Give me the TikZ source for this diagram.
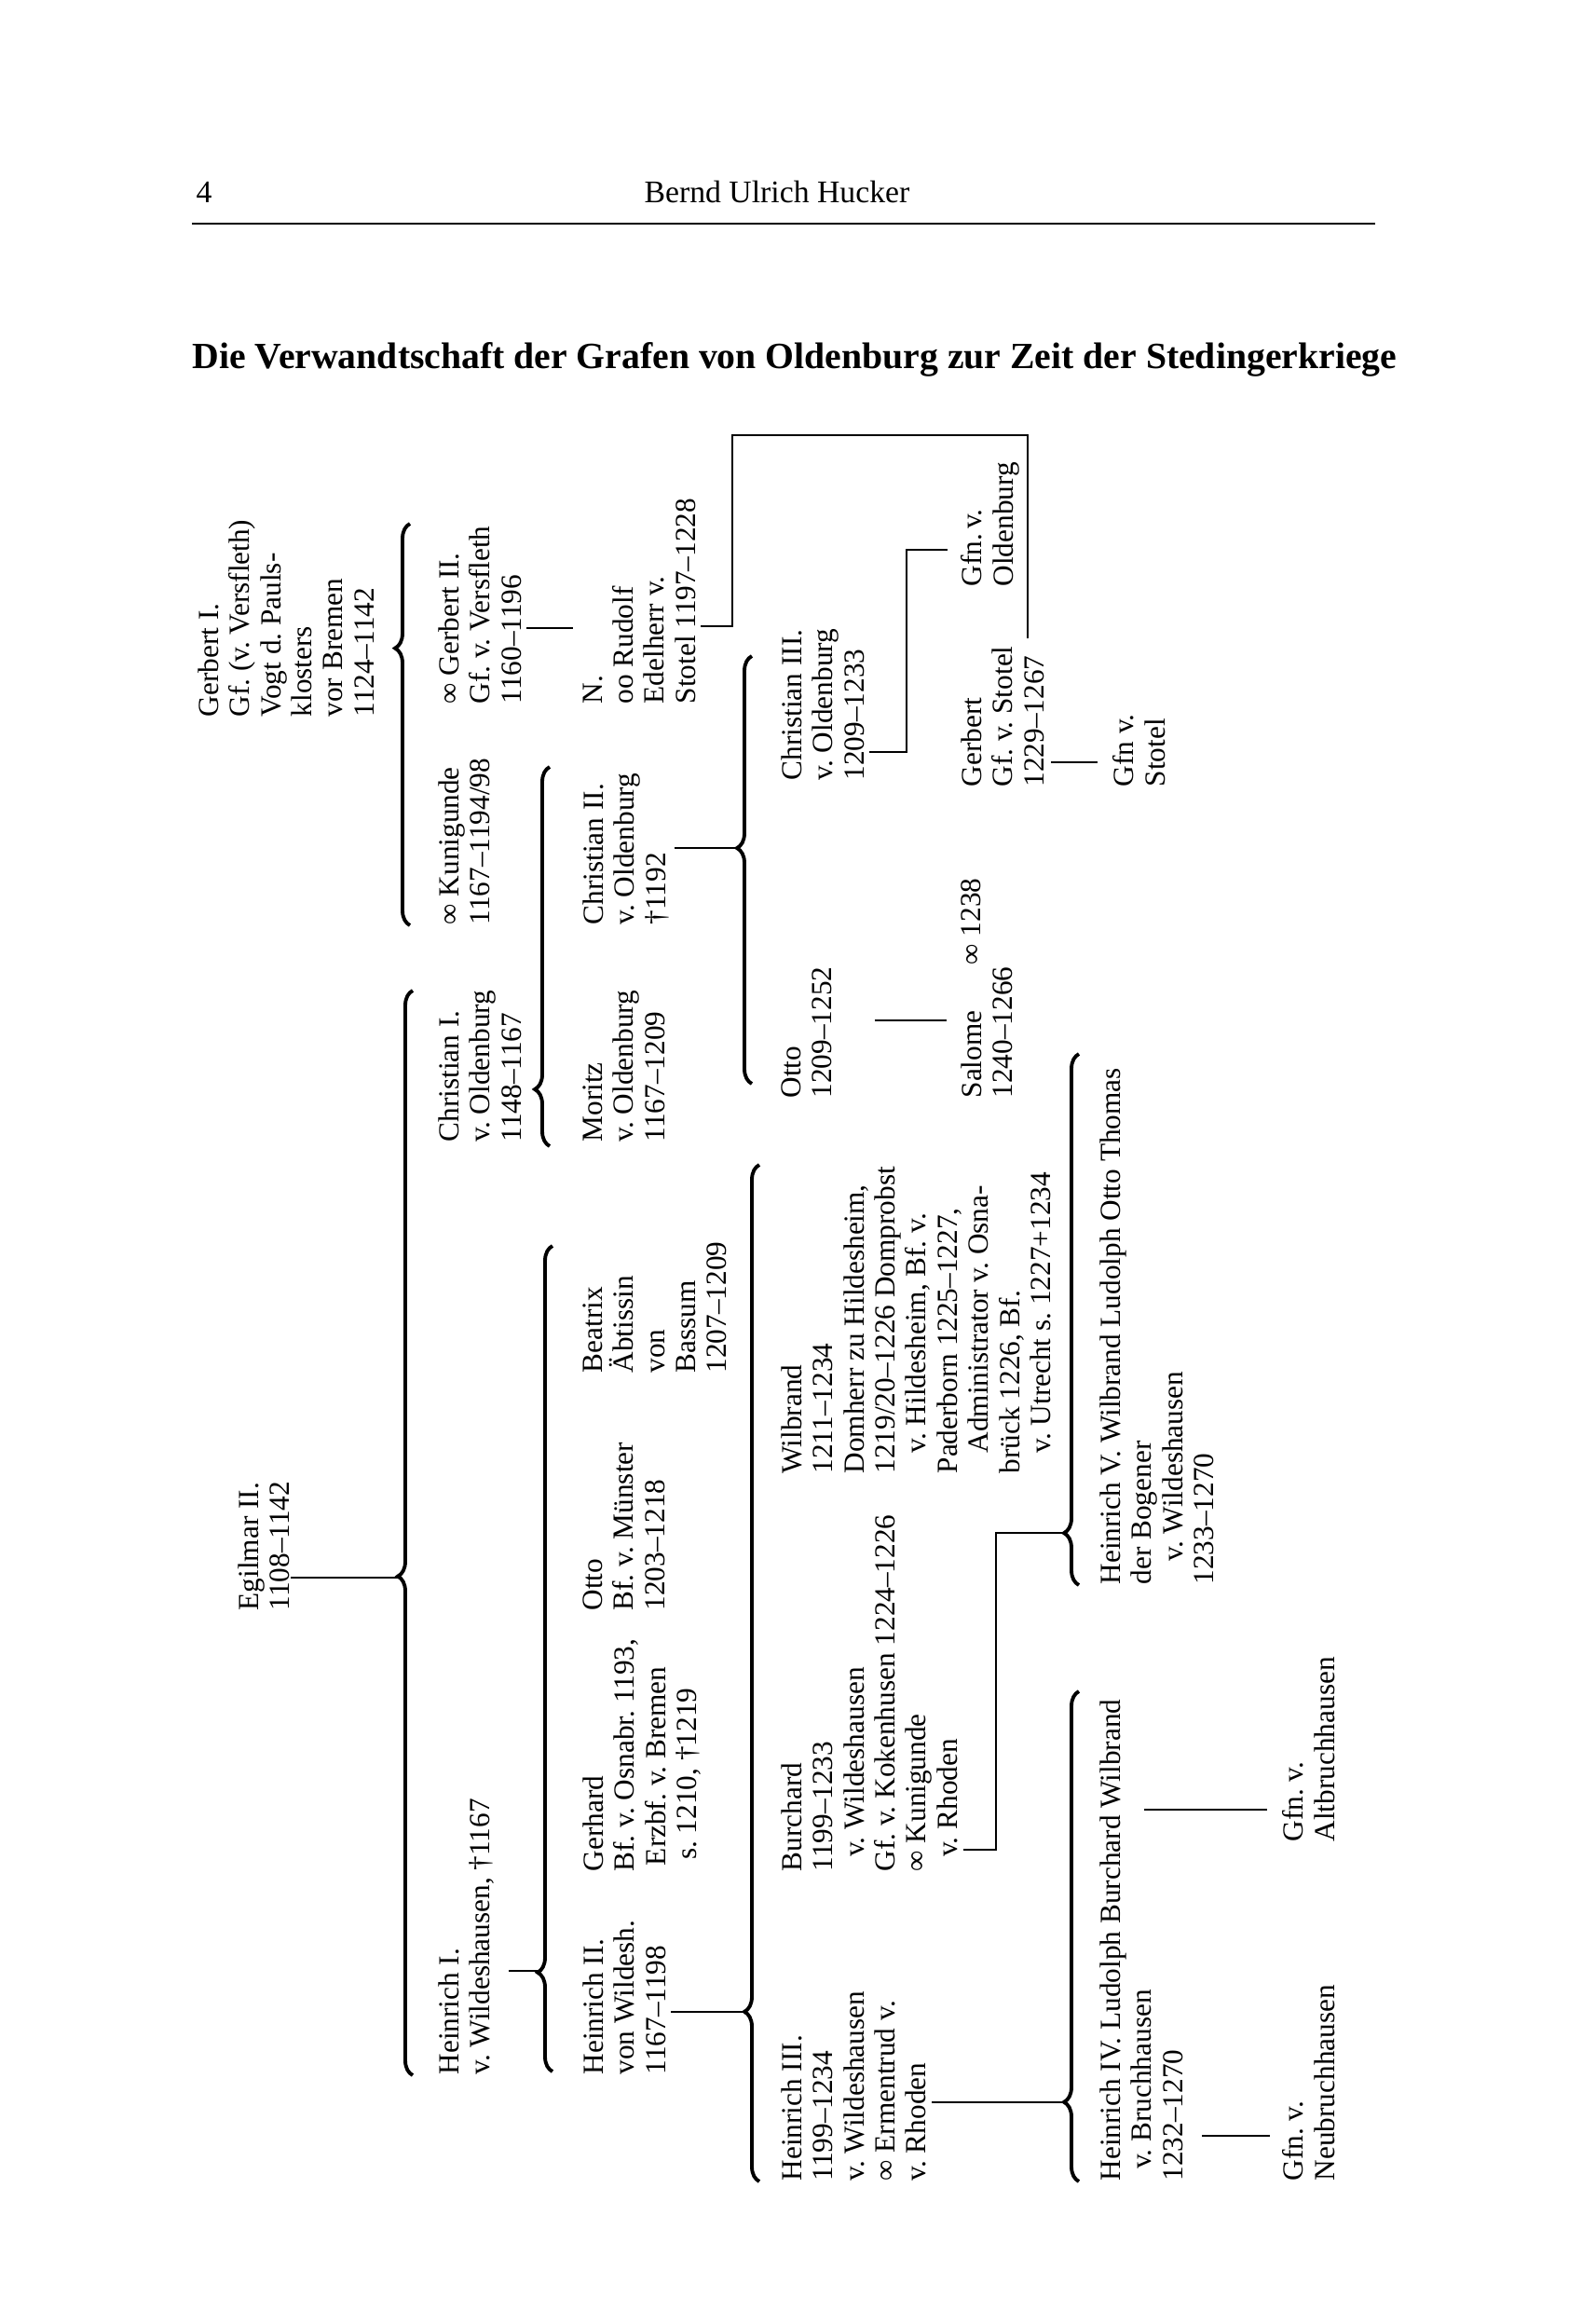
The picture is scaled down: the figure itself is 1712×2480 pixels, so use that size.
\documentclass[tikz,border=0pt]{standalone}
\usepackage{fontspec}
\setmainfont{Liberation Serif}
\usetikzlibrary{decorations.pathreplacing}
\frenchspacing

\begin{document}
\begin{tikzpicture}[
  x=0.1mm, y=-0.1mm,
  pers/.style={rotate=90, anchor=north west, inner sep=0pt, align=left, font=\fontsize{8.9}{9.5}\selectfont},
  pagehead/.style={inner sep=0pt, font=\fontsize{9.6}{11}\selectfont},
  ln/.style={line width=0.5pt},
  brc/.style={decorate, decoration={brace, amplitude=1.6mm, aspect=#1}, line width=1.1pt}
]
\useasboundingbox (0,0) rectangle (1712,2480);

\node[pagehead, anchor=base west] (seite) at (210,217) {4};
\node[pagehead, anchor=base] (autor) at (834,217) {Bernd Ulrich Hucker};
\draw[line width=0.8pt] (206,240) -- (1476,240);
\node[anchor=base west, inner sep=0pt, font=\bfseries\fontsize{11.3}{13}\selectfont] (titel) at (206,395) {Die Verwandtschaft der Grafen von Oldenburg zur Zeit der Stedingerkriege};

\node[pers] (gerbertI) at (212,770) {Gerbert I.\\Gf. (v. Versfleth)\\Vogt d. Pauls-\\klosters\\vor Bremen\\1124–1142};
\node[pers] (egilmar) at (255,1729) {Egilmar II.\\1108–1142};
\node[pers] (heinrichI) at (470,2227) {Heinrich I.\\v. Wildeshausen, †1167};
\node[pers] (christianI) at (470,1226) {Christian I.\\v. Oldenburg\\1148–1167};
\node[pers] (kunigunde) at (470,993) {∞ Kunigunde\\1167–1194/98};
\node[pers] (gerbertII) at (470,756) {∞ Gerbert II.\\Gf. v. Versfleth\\1160–1196};
\node[pers] (heinrichII) at (625,2227) {Heinrich II.\\von Wildesh.\\1167–1198};
\node[pers] (gerhard) at (625,2009) {Gerhard\\Bf. v. Osnabr. 1193,\\\hspace*{.2em}Erzbf. v. Bremen\\\hspace*{.4em}s. 1210, †1219};
\node[pers] (ottoM) at (625,1729) {Otto\\Bf. v. Münster\\1203–1218};
\node[pers] (beatrix) at (625,1474) {Beatrix\\Äbtissin\\von\\Bassum\\1207–1209};
\node[pers] (moritz) at (625,1226) {Moritz\\v. Oldenburg\\1167–1209};
\node[pers] (christianII) at (625,993) {Christian II.\\v. Oldenburg\\†1192};
\node[pers] (nStotel) at (625,756) {N.\\oo Rudolf\\Edelherr v.\\Stotel 1197–1228};
\node[pers] (heinrichIII) at (838,2341) {Heinrich III.\\1199–1234\\v. Wildeshausen\\∞ Ermentrud v.\\v. Rhoden};
\node[pers] (burchard) at (838,2009) {Burchard\\1199–1233\\\hspace*{.5em}v. Wildeshausen\\Gf. v. Kokenhusen 1224–1226\\∞ Kunigunde\\\hspace*{.5em}v. Rhoden};
\node[pers] (wilbrand) at (838,1582) {Wilbrand\\1211–1234\\Domherr zu Hildesheim,\\1219/20–1226 Domprobst\\\hspace*{.7em}v. Hildesheim, Bf. v.\\Paderborn 1225–1227,\\\hspace*{.7em}Administrator v. Osna-\\brück 1226, Bf.\\\hspace*{.7em}v. Utrecht s. 1227+1234};
\node[pers] (ottoO) at (838,1179) {Otto\\1209–1252};
\node[pers] (christianIII) at (838,838) {Christian III.\\v. Oldenburg\\1209–1233};
\node[pers] (salome) at (1031,1179) {Salome\\1240–1266};
\node[pers] (ehe) at (1031,1036) {∞ 1238};
\node[pers] (gerbertS) at (1031,845) {Gerbert\\Gf. v. Stotel\\1229–1267};
\node[pers] (gfnO) at (1031,630) {Gfn.\,v.\\Oldenburg};
\node[pers] (heinrichV) at (1180,1701) {Heinrich V. Wilbrand Ludolph Otto Thomas\\der Bogener\\\hspace*{.8em}v. Wildeshausen\\1233–1270};
\node[pers] (heinrichIV) at (1180,2341) {Heinrich IV. Ludolph Burchard Wilbrand\\\hspace*{.4em}v. Bruchhausen\\1232–1270};
\node[pers] (gfnS) at (1194,845) {Gfn v.\\Stotel};
\node[pers] (gfnN) at (1376,2341) {Gfn. v.\\Neubruchhausen};
\node[pers] (gfnA) at (1376,1977) {Gfn. v.\\Altbruchhausen};

\draw[brc=0.46] (443,2227) -- (443,1063);
\draw[brc=0.69] (440,993) -- (440,562);
\draw[brc=0.12] (593,2223) -- (593,1337);
\draw[brc=0.15] (590,1230) -- (590,823);
\draw[brc=0.167] (815,2341) -- (815,1250);
\draw[brc=0.551] (807,1163) -- (807,704);
\draw[brc=0.162] (1158,2341) -- (1158,1815);
\draw[brc=0.098] (1158,1701) -- (1158,1131);

\coordinate (tEgil) at (427,1693);
\coordinate (tHI) at (577,2115);
\coordinate (tHII) at (799,2159);
\coordinate (tCII) at (791,910);
\coordinate (tHIII) at (1142,2256);
\coordinate (tBur) at (1142,1645);
\coordinate (jN1) at (786,672);
\coordinate (jN2) at (786,467);
\coordinate (jN3) at (1103,467);
\coordinate (jC1) at (973,807);
\coordinate (jC2) at (973,590);
\coordinate (jB1) at (1069,1985);
\coordinate (jB2) at (1069,1645);

\draw[ln] (egilmar.south |- tEgil) -- (tEgil);
\draw[ln, shorten <=1.5mm] (heinrichI.south |- tHI) -- (tHI);
\draw[ln, shorten <=.5mm] (heinrichII.south |- tHII) -- (tHII);
\draw[ln, shorten <=.5mm] (christianII.south |- tCII) -- (tCII);
\draw[ln, shorten <=.5mm, shorten >=1mm] (gerbertII.south |- 0,674) -- (nStotel.north |- 0,674);
\draw[ln, shorten <=.5mm, shorten >=.8mm] (nStotel.south |- jN1) -- (jN1) -- (jN2) -- (jN3) -- (jN3 |- gerbertS.east);
\draw[ln, shorten <=.5mm, shorten >=1.4mm] (christianIII.south |- jC1) -- (jC1) -- (jC2) -- (gfnO.north |- jC2);
\draw[ln, shorten <=4.5mm, shorten >=1.5mm] (ottoO.south |- 0,1095) -- (salome.north |- 0,1095);
\draw[ln, shorten <=.7mm, shorten >=1.6mm] (gerbertS.south |- 0,818) -- (gfnS.north |- 0,818);
\draw[ln, shorten <=.5mm] (burchard.south |- jB1) -- (jB1) -- (jB2) -- (tBur);
\draw[ln, shorten <=.5mm] (heinrichIII.south |- tHIII) -- (tHIII);
\draw[ln, shorten <=2mm, shorten >=1.3mm] (heinrichIV.south |- 0,2292) -- (gfnN.north |- 0,2292);
\draw[ln, shorten <=4.8mm, shorten >=1.6mm] (heinrichIV.north |- 0,1942) -- (gfnA.north |- 0,1942);
\end{tikzpicture}
\end{document}
